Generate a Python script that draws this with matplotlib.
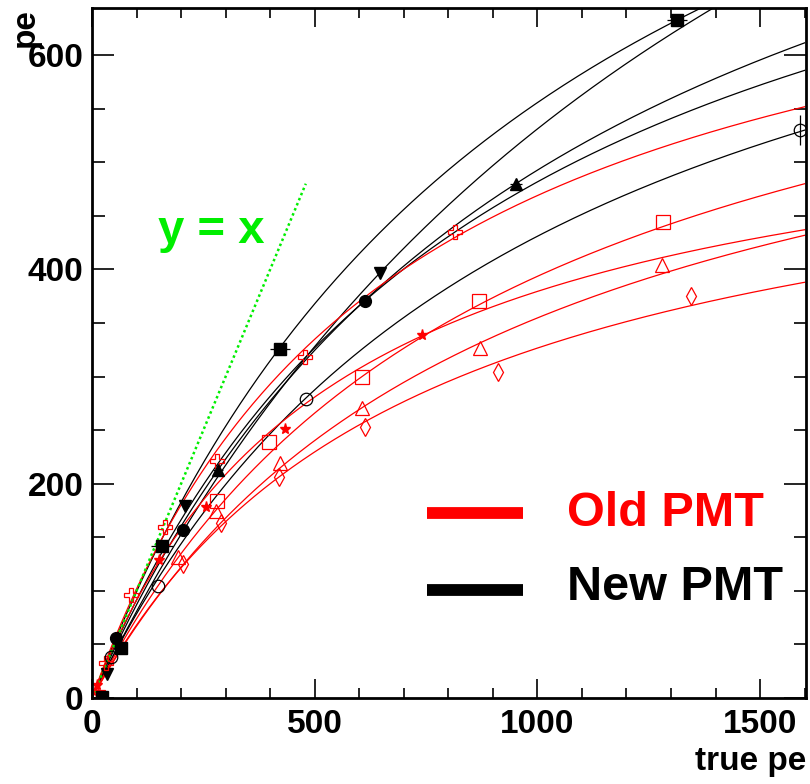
import numpy as np
import matplotlib.pyplot as plt
from matplotlib.ticker import MultipleLocator

plt.rcParams['font.family'] = ['Liberation Sans', 'DejaVu Sans']
plt.rcParams['font.weight'] = 'bold'

# ---- new PMT (black) ----
sq_x = [22, 65, 157, 422, 1314]
sq_y = [1, 47, 142, 326, 633]
sq_xerr = [0, 12, 25, 22, 22]

dn_x = [33, 209, 647]
dn_y = [22, 179, 397]

ci_x = [54, 205, 613]
ci_y = [56, 157, 371]

up_x = [283, 952]
up_y = [213, 480]
up_xerr = [12, 14]

oc_x = [43, 148, 481, 1590]
oc_y = [38, 105, 279, 530]
oc_yerr = [0, 0, 0, 14]

# ---- old PMT (red) ----
cr_x = [31, 88, 164, 281, 478, 815]
cr_y = [33, 96, 160, 221, 318, 435]

osq_x = [14, 281, 397, 606, 869, 1282]
osq_y = [1, 184, 239, 300, 371, 444]

st_x = [11, 150, 255, 433, 741]
st_y = [12, 129, 178, 251, 339]

otr_x = [3, 193, 278, 422, 606, 871, 1280]
otr_y = [1, 132, 175, 219, 271, 327, 404]

dm_x = [8, 204, 289, 420, 613, 912, 1345]
dm_y = [4, 125, 163, 206, 253, 304, 375]

# saturation fits  y = a*x / (1 + x/b)
fit_sq = (1.089, 1042)
fit_dn = (0.858, 1625)
fit_ci = (1.017, 900)
fit_up = (0.951, 1075)
fit_oc = (0.865, 993)
fit_cr = (1.171, 668)
fit_osq = (0.820, 923)
fit_st = (1.081, 541)
fit_otr = (0.745, 909)
fit_dm = (0.774, 730)


def sat(x, p):
    a, b = p
    return a * x / (1 + x / b)


fig = plt.figure(figsize=(8.1, 7.84), dpi=100)
ax = fig.add_axes([92 / 810, 1 - 698 / 784, 714 / 810, 690 / 784])

xx = np.linspace(0, 1600, 400)
for p, c in [(fit_sq, 'k'), (fit_dn, 'k'), (fit_ci, 'k'), (fit_up, 'k'), (fit_oc, 'k'),
             (fit_cr, 'r'), (fit_osq, 'r'), (fit_st, 'r'), (fit_otr, 'r'), (fit_dm, 'r')]:
    ax.plot(xx, sat(xx, p), color=c, lw=0.9)

ax.plot([0, 480], [0, 480], color='#00ee00', lw=1.8, ls=(0, (1, 1.2)))

ax.errorbar(sq_x, sq_y, xerr=sq_xerr, fmt='s', color='k', ms=8, elinewidth=0.9, capsize=0)
ax.plot(dn_x, dn_y, 'v', color='k', ms=9)
ax.plot(ci_x, ci_y, 'o', color='k', ms=8.5)
ax.errorbar(up_x, up_y, xerr=up_xerr, fmt='^', color='k', ms=9, elinewidth=0.9, capsize=0)
ax.errorbar(oc_x, oc_y, yerr=oc_yerr, fmt='o', color='k', mfc='none', ms=9, mew=0.9,
            elinewidth=0.9, capsize=0)

ax.plot(cr_x, cr_y, 'P', color='r', mfc='none', ms=10, mew=0.9)
ax.plot(osq_x, osq_y, 's', color='r', mfc='none', ms=10, mew=0.9)
ax.plot(st_x, st_y, '*', color='r', ms=8)
ax.plot(otr_x, otr_y, '^', color='r', mfc='none', ms=10, mew=0.9)
ax.plot(dm_x, dm_y, 'd', color='r', mfc='none', ms=9, mew=0.9)

ax.set_xlim(0, 1603)
ax.set_ylim(0, 644)
ax.xaxis.set_major_locator(MultipleLocator(500))
ax.xaxis.set_minor_locator(MultipleLocator(100))
ax.yaxis.set_major_locator(MultipleLocator(200))
ax.yaxis.set_minor_locator(MultipleLocator(50))
ax.tick_params(axis='x', which='major', direction='in', length=14, width=1.2,
               top=True, labelsize=24, pad=8)
ax.tick_params(axis='x', which='minor', direction='in', length=7, width=1.2, top=True)
ax.tick_params(axis='y', which='major', direction='in', length=16, width=1.2,
               right=True, labelsize=24, pad=6)
ax.tick_params(axis='y', which='minor', direction='in', length=9, width=1.2, right=True)
for lab in ax.get_xticklabels() + ax.get_yticklabels():
    lab.set_fontweight('bold')
for s in ax.spines.values():
    s.set_linewidth(2)

fig.text(25 / 810, 1 - 8 / 784, 'pe', rotation=90, ha='center', va='top',
         fontsize=24, fontweight='bold')
fig.text(806 / 810, 1 - 770 / 784, 'true pe', ha='right', va='baseline',
         fontsize=24, fontweight='bold')

ax.text(148, 425, 'y = x', color='#00ee00', fontsize=34, fontweight='bold',
        ha='left', va='baseline')

# legend
ax.plot([0.469, 0.604], [0.268, 0.268], color='r', lw=8.5, transform=ax.transAxes,
        solid_capstyle='butt')
ax.plot([0.469, 0.604], [0.157, 0.157], color='k', lw=8.5, transform=ax.transAxes,
        solid_capstyle='butt')
ax.text(0.665, 0.25, 'Old PMT', color='r', fontsize=35, fontweight='bold',
        transform=ax.transAxes, va='baseline')
ax.text(0.665, 0.142, 'New PMT', color='k', fontsize=35, fontweight='bold',
        transform=ax.transAxes, va='baseline')

fig.savefig('out.png', dpi=100)
